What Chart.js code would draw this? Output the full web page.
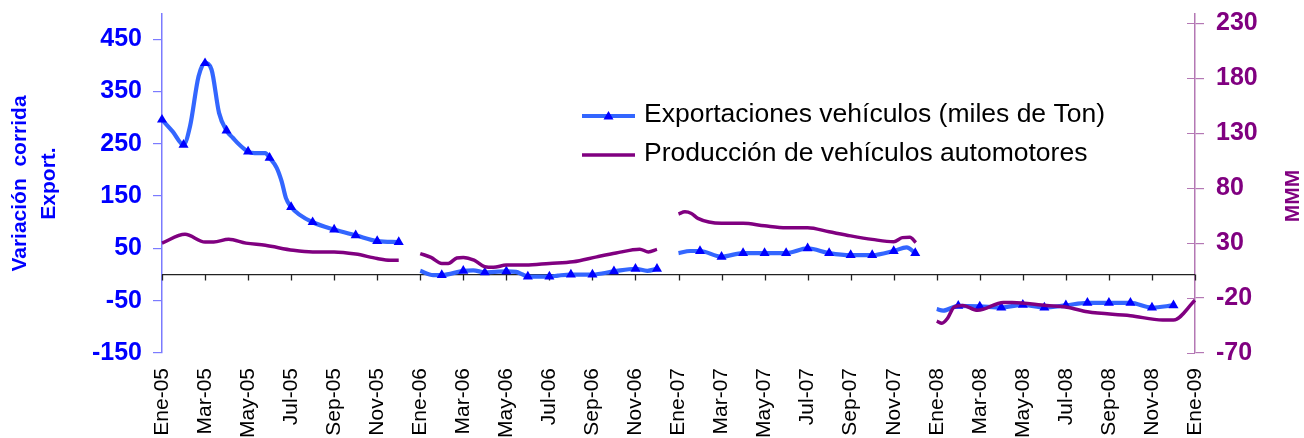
<!DOCTYPE html>
<html>
<head>
<meta charset="utf-8">
<script src="https://cdn.jsdelivr.net/npm/chart.js@4.4.0/dist/chart.umd.min.js"></script>
<style>
  html, body { margin: 0; padding: 0; background: #fff; }
  #wrap { width: 1304px; height: 438px; position: relative; }
</style>
</head>
<body>
<div id="wrap"><canvas id="grafico"></canvas></div>
<script>
// eje x en meses desde Ene-05 (0) hasta Ene-09 (48)
const monthLabels = ["Ene-05", "Mar-05", "May-05", "Jul-05", "Sep-05", "Nov-05",
                     "Ene-06", "Mar-06", "May-06", "Jul-06", "Sep-06", "Nov-06",
                     "Ene-07", "Mar-07", "May-07", "Jul-07", "Sep-07", "Nov-07",
                     "Ene-08", "Mar-08", "May-08", "Jul-08", "Sep-08", "Nov-08",
                     "Ene-09"];
const leftTicks = [-150, -50, 50, 150, 250, 350, 450];
const rightTicks = [-70, -20, 30, 80, 130, 180, 230];

// Exportaciones vehículos (miles de Ton) - variación corrida
const expMonths = [0, 0.5, 1, 1.3, 1.7, 2, 2.3, 2.65, 3, 3.3, 3.6, 4, 4.3, 4.8, 5, 5.33, 5.56, 5.76, 6, 6.4, 7, 8, 9, 10, 11,
                   11.5,
                   12, 12.6, 13, 14, 14.46, 15, 15.46, 16, 16.45, 16.76, 17, 18, 18.4, 19, 20, 21, 22, 22.55, 23,
                   23.5,
                   24, 24.54, 25, 26, 27, 28, 29, 30, 31, 32, 33, 34, 34.6, 35,
                   35.5,
                   36, 36.3, 37, 38, 39, 40, 41, 42, 43, 44, 45, 46, 47];
const expValues = [296, 273, 248, 283, 379, 404, 392, 309, 275, 261, 248, 235, 232, 232, 223, 204, 178, 146, 129, 114, 100, 86, 75, 64, 62,
                   null,
                   7, -1, -1, 7, 8, 4, 5, 6, 5, 0, -4, -4, -2, 0, 0, 6, 11, 7, 11,
                   null,
                   41, 45, 45, 34, 41, 41, 41, 50, 41, 37, 37, 45, 52, 41,
                   null,
                   -66, -69, -60, -61, -63, -58, -63, -59, -54, -54, -54, -63, -59];

// Producción de vehículos automotores (MMM)
const prodMonths = [0, 1.07, 2, 2.4, 3.1, 3.9, 4.8, 6.1, 7, 8, 9, 10, 10.6, 11,
                    11.5,
                    12, 12.5, 13, 13.3, 13.7, 14, 14.5, 15, 15.4, 16, 16.9, 18, 19.1, 20.2, 21.1, 22.2, 22.6, 23,
                    23.5,
                    24, 24.3, 24.6, 24.9, 26, 27, 28, 29, 30, 31, 32, 33, 34, 34.4, 34.75, 35.03,
                    35.5,
                    36, 36.24, 36.5, 36.8, 37.2, 37.9, 39.1, 39.5, 41.1, 42.04, 43, 45, 46.5, 47, 48];
const prodValues = [30, 38, 31, 31, 33.5, 30, 28, 23.5, 22, 22, 20, 16, 14.5, 14.5,
                    null,
                    20.5, 17, 11.5, 11.5, 16.5, 17, 14.5, 8.5, 8, 10, 10, 11.5, 13, 17.5, 21, 24.5, 22, 24.3,
                    null,
                    56.5, 58.5, 57, 52.5, 48, 48, 45.7, 44, 44, 40.3, 36.6, 33.4, 31.2, 35, 35.3, 30.6,
                    null,
                    -41, -43, -38.5, -28.3, -26.8, -31.2, -24, -24, -26.8, -28.3, -32.5, -36, -40, -40, -22];

const AZUL_LINEA = "#3366FF";
const AZUL = "#0000FF";
const MORADO = "#800080";
const FUENTE = "'Liberation Sans', Arial, sans-serif";

Chart.defaults.font.family = FUENTE;

// linea del eje en cero con sus marcas hacia abajo
const ejeCero = {
    id: "ejeCero",
    beforeDatasetsDraw(chart) {
        const { ctx, chartArea, scales } = chart;
        const y0 = scales.y.getPixelForValue(0);
        ctx.save();
        ctx.strokeStyle = "#222";
        ctx.lineWidth = 1.3;
        ctx.beginPath();
        ctx.moveTo(chartArea.left, y0);
        ctx.lineTo(chartArea.right, y0);
        scales.x.ticks.forEach(t => {
            const px = Math.round(scales.x.getPixelForValue(t.value)) + 0.5;
            ctx.moveTo(px, y0);
            ctx.lineTo(px, y0 + 6);
        });
        ctx.stroke();
        // marcas del eje derecho cruzan el eje
        ctx.strokeStyle = "#b478b4";
        ctx.lineWidth = 1.2;
        ctx.beginPath();
        scales.y1.ticks.forEach(t => {
            const py = Math.round(scales.y1.getPixelForValue(t.value)) + 0.5;
            ctx.moveTo(chartArea.right - 8, py);
            ctx.lineTo(chartArea.right, py);
        });
        ctx.stroke();
        ctx.restore();
    }
};

// leyenda dentro del area del grafico
const leyenda = {
    id: "leyenda",
    afterDraw(chart) {
        const ctx = chart.ctx;
        ctx.save();
        ctx.lineCap = "butt";
        ctx.strokeStyle = AZUL_LINEA;
        ctx.lineWidth = 4;
        ctx.beginPath();
        ctx.moveTo(582, 116);
        ctx.lineTo(635, 116);
        ctx.stroke();
        ctx.fillStyle = AZUL;
        ctx.beginPath();
        ctx.moveTo(608.5, 111);
        ctx.lineTo(613.5, 119.5);
        ctx.lineTo(603.5, 119.5);
        ctx.closePath();
        ctx.fill();

        ctx.strokeStyle = MORADO;
        ctx.lineWidth = 3.5;
        ctx.beginPath();
        ctx.moveTo(582, 155);
        ctx.lineTo(635, 155);
        ctx.stroke();

        ctx.fillStyle = "#000";
        ctx.font = "26.5px " + FUENTE;
        ctx.textBaseline = "alphabetic";
        ctx.fillText("Exportaciones vehículos (miles de Ton)", 644, 122);
        ctx.fillText("Producción de vehículos automotores", 644, 161);

        // titulo eje derecho
        ctx.translate(1293, 196);
        ctx.rotate(-Math.PI / 2);
        ctx.fillStyle = MORADO;
        ctx.font = "bold 21px " + FUENTE;
        ctx.textAlign = "center";
        ctx.textBaseline = "middle";
        ctx.fillText("MMM", 0, 0);
        ctx.restore();
    }
};

const expData = expMonths.map((m, i) => ({ x: m, y: expValues[i] }));
const prodData = prodMonths.map((m, i) => ({ x: m, y: prodValues[i] }));

const ctx = document.getElementById("grafico").getContext("2d");
new Chart(ctx, {
    type: "line",
    data: {
        datasets: [
            {
                label: "Exportaciones vehículos (miles de Ton)",
                data: expData,
                yAxisID: "y",
                order: 1,
                borderColor: AZUL_LINEA,
                borderWidth: 4.2,
                backgroundColor: AZUL,
                pointStyle: "triangle",
                pointBackgroundColor: AZUL,
                pointBorderColor: AZUL,
                pointBorderWidth: 0,
                pointRadius: c => {
                    const p = c.raw;
                    if (!p || p.y === null || !Number.isInteger(p.x)) return 0;
                    if (p.x % 12 === 0 && p.x > 0) return 0; // enero sin marcador desde 2006
                    return 5.8;
                },
                pointHoverRadius: 0,
                cubicInterpolationMode: "monotone",
                spanGaps: false,
                clip: false
            },
            {
                label: "Producción de vehículos automotores",
                data: prodData,
                yAxisID: "y1",
                order: 0,
                borderColor: MORADO,
                borderWidth: 3.5,
                pointRadius: 0,
                pointHoverRadius: 0,
                cubicInterpolationMode: "monotone",
                spanGaps: false,
                clip: false
            }
        ]
    },
    options: {
        responsive: true,
        maintainAspectRatio: false,
        animation: false,
        events: [],
        layout: { padding: { top: 14, left: 0, right: 0, bottom: 0 } },
        plugins: {
            legend: { display: false },
            tooltip: { enabled: false }
        },
        scales: {
            x: {
                type: "linear",
                position: "bottom",
                min: 0,
                max: 48,
                afterBuildTicks: s => { s.ticks = monthLabels.map((_, i) => ({ value: i * 2 })); },
                afterFit: s => { s.height = 85; s.paddingLeft = 0; s.paddingRight = 0; },
                grid: { display: false, drawTicks: false },
                border: { display: false },
                ticks: {
                    autoSkip: false,
                    minRotation: 90,
                    maxRotation: 90,
                    padding: 15,
                    color: "#000",
                    font: { size: 21 },
                    callback: v => monthLabels[v / 2]
                }
            },
            y: {
                position: "left",
                min: -150,
                max: 498,
                afterBuildTicks: s => { s.ticks = leftTicks.map(v => ({ value: v })); },
                afterFit: s => { s.width = 162; s.paddingTop = 0; s.paddingBottom = 0; },
                grid: { drawOnChartArea: false, drawTicks: true, tickLength: 9, color: "#7b7bff", lineWidth: 1.2 },
                border: { display: true, color: "#7b7bff", width: 1.5 },
                ticks: {
                    padding: 11,
                    color: AZUL,
                    font: { size: 25, weight: "bold" }
                },
                title: {
                    display: true,
                    text: ["Variación  corrida", "Export."],
                    color: AZUL,
                    font: { size: 21, weight: "bold", lineHeight: 1.38 },
                    padding: { top: 6, bottom: 0 }
                }
            },
            y1: {
                position: "right",
                min: -70,
                max: 238.5,
                afterBuildTicks: s => { s.ticks = rightTicks.map(v => ({ value: v })); },
                afterFit: s => { s.width = 109; s.paddingTop = 0; s.paddingBottom = 0; },
                grid: { drawOnChartArea: false, drawTicks: true, tickLength: 9, color: "#b478b4", lineWidth: 1.2 },
                border: { display: true, color: "#b478b4", width: 1.5 },
                ticks: {
                    padding: 12,
                    color: MORADO,
                    font: { size: 25, weight: "bold" }
                }
            }
        }
    },
    plugins: [ejeCero, leyenda]
});
</script>
</body>
</html>
